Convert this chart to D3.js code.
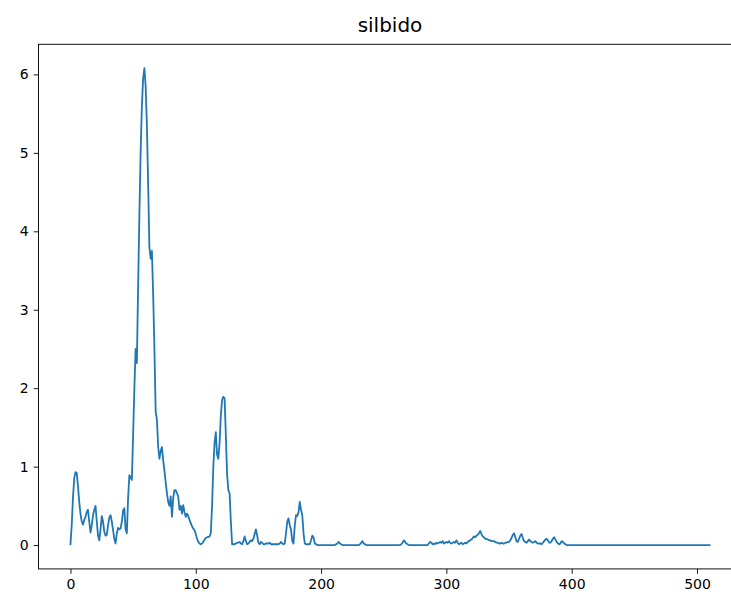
<!DOCTYPE html>
<html>
<head>
<meta charset="utf-8">
<script src="https://cdn.jsdelivr.net/npm/d3@7"></script>
<style>
html,body{margin:0;padding:0;background:#fff;}
svg{display:block;}
text{font-family:"DejaVu Sans",sans-serif;fill:#000;}
</style>
</head>
<body>
<svg id="chart" width="731" height="599"></svg>
<script>
const title = "silbido";
const xTicks = [0, 100, 200, 300, 400, 500];
const yTicks = [0, 1, 2, 3, 4, 5, 6];
const values = [
0.01,0.25,0.6,0.85,0.93,0.92,0.75,0.55,0.4,0.3,0.26,0.32,0.36,0.42,0.45,0.3,0.16,0.25,0.38,0.45,
0.5,0.3,0.12,0.06,0.2,0.37,0.3,0.17,0.12,0.13,0.25,0.35,0.38,0.3,0.19,0.08,0.02,0.15,0.22,0.2,
0.21,0.3,0.44,0.47,0.2,0.15,0.6,0.89,0.86,0.83,1.4,2.0,2.5,2.32,3.3,4.2,5.0,5.6,5.95,6.08,
5.85,5.35,4.6,3.8,3.65,3.75,3.2,2.5,1.7,1.6,1.25,1.1,1.2,1.25,1.08,0.95,0.8,0.66,0.55,0.5,
0.62,0.36,0.6,0.7,0.7,0.66,0.62,0.45,0.5,0.4,0.51,0.42,0.36,0.4,0.37,0.32,0.28,0.24,0.21,0.19,
0.14,0.08,0.04,0.02,0.01,0.02,0.04,0.07,0.09,0.1,0.1,0.11,0.15,0.5,1.0,1.3,1.44,1.15,1.1,1.3,
1.65,1.85,1.89,1.87,1.4,0.9,0.7,0.66,0.3,0.01,0.01,0.01,0.02,0.03,0.03,0.04,0.02,0.01,0.05,0.11,
0.05,0.01,0.02,0.04,0.06,0.05,0.08,0.14,0.2,0.12,0.03,0.01,0.04,0.03,0.01,0.01,0.02,0.02,0.02,0.03,
0.01,0.01,0.01,0.01,0.01,0.01,0.01,0.02,0.04,0.02,0.01,0.02,0.15,0.3,0.34,0.25,0.2,0.05,0.02,0.25,
0.38,0.37,0.42,0.55,0.45,0.38,0.15,0.02,0.01,0.01,0.01,0.01,0.06,0.12,0.1,0.02,0.01,0,0,0,
0,0,0,0,0,0,0,0,0,0,0,0,0.01,0.02,0.04,0.02,0.01,0,0,0,
0,0,0,0,0,0,0,0,0,0,0,0.01,0.03,0.05,0.02,0.01,0,0,0,0,
0,0,0,0,0,0,0,0,0,0,0,0,0,0,0,0,0,0,0,0,
0,0,0,0,0.01,0.03,0.06,0.04,0.02,0.01,0,0,0,0,0,0,0,0,0,0,
0,0,0,0,0,0,0.02,0.04,0.03,0.01,0.02,0.01,0.03,0.02,0.03,0.04,0.03,0.05,0.02,0.03,
0.04,0.03,0.05,0.03,0.02,0.03,0.04,0.03,0.06,0.03,0.01,0.02,0.03,0.01,0.02,0.03,0.02,0.04,0.05,0.06,
0.07,0.09,0.11,0.1,0.12,0.13,0.15,0.18,0.14,0.11,0.1,0.08,0.08,0.07,0.06,0.06,0.05,0.05,0.05,0.04,
0.03,0.03,0.02,0.02,0.03,0.02,0.02,0.03,0.03,0.04,0.04,0.06,0.09,0.13,0.15,0.1,0.05,0.04,0.08,0.12,
0.14,0.09,0.05,0.04,0.03,0.05,0.07,0.05,0.04,0.03,0.04,0.05,0.03,0.02,0.02,0.02,0.01,0.03,0.05,0.07,
0.08,0.06,0.03,0.03,0.05,0.08,0.1,0.07,0.04,0.02,0.01,0.02,0.05,0.04,0.02,0.01,0,0,0,0,
0,0,0,0,0,0,0,0,0,0,0,0,0,0,0,0,0,0,0,0,
0,0,0,0,0,0,0,0,0,0,0,0,0,0,0,0,0,0,0,0,
0,0,0,0,0,0,0,0,0,0,0,0,0,0,0,0,0,0,0,0,
0,0,0,0,0,0,0,0,0,0,0,0,0,0,0,0,0,0,0,0,
0,0,0,0,0,0,0,0,0,0,0,0,0,0,0,0,0,0,0,0,
0,0,0,0,0,0,0,0,0,0,0
];

const svg = d3.select("#chart");
const plot = {left: 38.5, top: 44.3, right: 741.5, bottom: 568.9};

const n = values.length;
const xMin = 0, xMax = n - 1;
const xPad = (xMax - xMin) * 0.05;
const yExt = d3.extent(values);
const yPad = (yExt[1] - yExt[0]) * 0.05;

const x = d3.scaleLinear().domain([xMin - xPad, xMax + xPad]).range([plot.left, plot.right]);
const y = d3.scaleLinear().domain([yExt[0] - yPad, yExt[1] + yPad]).range([plot.bottom, plot.top]);

const line = d3.line().x((d, i) => x(i)).y(d => y(d));

svg.append("path")
  .datum(values)
  .attr("fill", "none")
  .attr("stroke", "#1f77b4")
  .attr("stroke-width", 1.8)
  .attr("stroke-linejoin", "round")
  .attr("stroke-linecap", "square")
  .attr("d", line);

// axes
const xAxis = d3.axisBottom(x).tickValues(xTicks).tickSize(4.9).tickPadding(4.9).tickFormat(d3.format("d"));
const yAxis = d3.axisLeft(y).tickValues(yTicks).tickSize(4.9).tickPadding(4.9).tickFormat(d3.format("d"));

const gx = svg.append("g").attr("transform", `translate(0,${plot.bottom})`).call(xAxis);
const gy = svg.append("g").attr("transform", `translate(${plot.left},0)`).call(yAxis);
[gx, gy].forEach(g => {
  g.select(".domain").remove();
  g.selectAll(".tick line").attr("stroke", "#000").attr("stroke-width", 0.9);
  g.selectAll(".tick text").attr("fill", "#222").style("font-size", "14px").style("font-family", "DejaVu Sans");
});

// spines
svg.append("rect")
  .attr("x", plot.left).attr("y", plot.top)
  .attr("width", plot.right - plot.left).attr("height", plot.bottom - plot.top)
  .attr("fill", "none").attr("stroke", "#111").attr("stroke-width", 1);

svg.append("text")
  .attr("x", (plot.left + plot.right) / 2)
  .attr("y", 32)
  .attr("text-anchor", "middle")
  .attr("fill", "#111")
  .style("font-size", "20px")
  .text(title);
</script>
</body>
</html>
